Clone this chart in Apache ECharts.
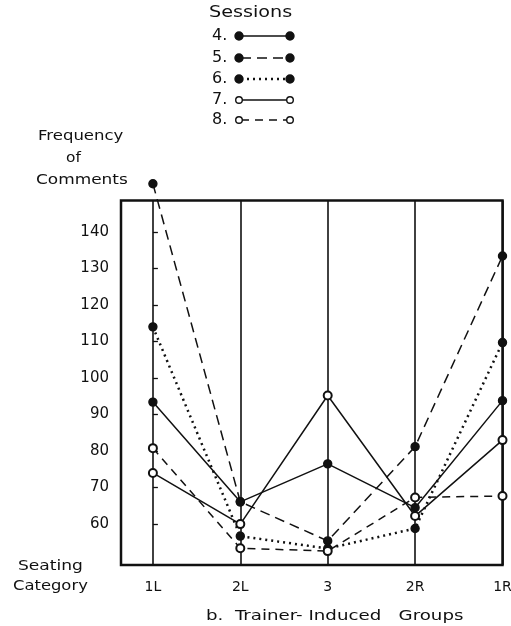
<!DOCTYPE html>
<html>
<head>
<meta charset="utf-8">
<script src="https://cdn.jsdelivr.net/npm/echarts@6/dist/echarts.min.js"></script>
<style>
html,body{margin:0;padding:0;background:#fff;}
#chart{width:511px;height:626px;}
</style>
</head>
<body>
<div id="chart"></div>
<script>
// ---- data ----
var categories = ['1L', '2L', '3', '2R', '1R'];
var yTicks = [60, 70, 80, 90, 100, 110, 120, 130, 140];
var sessionNames = ['4.', '5.', '6.', '7.', '8.'];
var session4 = [93.4, 66.1, 76.5, 64.5, 93.8];
var session5 = [153.2, 66.1, 55.4, 81.2, 133.4];
var session6 = [114.0, 56.7, 53.3, 58.8, 109.7];
var session7 = [74.0, 60.0, 95.2, 62.2, 83.0];
var session8 = [80.8, 53.4, 52.6, 67.3, 67.7];

// ---- styles ----
var INK = '#111';
var styles = [
  {type: 'solid', width: 1.5, filled: true},
  {type: [10, 6], width: 1.5, filled: true},
  {type: [2, 4], width: 2.5, filled: true},
  {type: 'solid', width: 1.5, filled: false},
  {type: [8, 6], width: 1.5, filled: false}
];
var allSessions = [session4, session5, session6, session7, session8];
var FONT = 'DejaVu Sans';

var series = allSessions.map(function (vals, s) {
  var st = styles[s];
  return {
    name: sessionNames[s],
    type: 'line',
    clip: false,
    data: vals.map(function (v, i) { return [i, v]; }),
    symbol: st.filled ? 'circle' : 'emptyCircle',
    symbolSize: 8,
    lineStyle: {color: INK, width: st.width, type: st.type},
    itemStyle: {color: INK, borderColor: INK, borderWidth: 1.4},
    z: 5,
    animation: false
  };
});

// vertical category lines
series.push({
  type: 'line',
  data: [],
  silent: true,
  markLine: {
    symbol: ['none', 'none'],
    silent: true,
    animation: false,
    label: {show: false},
    lineStyle: {color: INK, width: 1.6, type: 'solid'},
    data: categories.map(function (c, i) { return {xAxis: i}; })
  },
  z: 2
});

function label(text, x, y, size, sx) {
  return {
    type: 'text', x: x, y: y, scaleX: sx,
    style: {text: text, font: size + 'px ' + FONT, fill: INK, verticalAlign: 'top', align: 'left'}
  };
}

// legend drawn as graphics
var legendGraphics = [label('Sessions', 209, 6, 15, 1.28)];
var rowY = [36, 58, 79, 100, 120];
sessionNames.forEach(function (n, s) {
  var st = styles[s];
  var y = rowY[s];
  legendGraphics.push(label(n, 212, y - 8, 16, 1));
  legendGraphics.push({
    type: 'line',
    shape: {x1: 241, y1: y, x2: 288, y2: y},
    style: {stroke: INK, lineWidth: st.width, lineDash: st.type === 'solid' ? null : st.type}
  });
  [239, 290].forEach(function (cx) {
    legendGraphics.push({
      type: 'circle',
      shape: {cx: cx, cy: y, r: st.filled ? 4 : 3.3},
      style: {fill: st.filled ? INK : '#fff', stroke: INK, lineWidth: 1.4}
    });
  });
});

var textGraphics = [
  label('Frequency', 38, 129, 14, 1.18),
  label('of', 66, 151, 14, 1.1),
  label('Comments', 36, 173, 14, 1.21),
  label('Seating', 18, 559, 14, 1.22),
  label('Category', 13, 579, 14, 1.17),
  label('b.  Trainer- Induced   Groups', 206, 609, 14, 1.3)
];

var chart = echarts.init(document.getElementById('chart'), null, {renderer: 'canvas'});
chart.setOption({
  backgroundColor: '#fff',
  animation: false,
  grid: {
    left: 121, right: 8.5, top: 200.5, bottom: 61,
    containLabel: false, outerBoundsMode: 'none',
    show: true, borderColor: INK, borderWidth: 2.5, backgroundColor: 'transparent'
  },
  xAxis: {
    type: 'value', min: -0.365, max: 4,
    axisLine: {show: false},
    splitLine: {show: false},
    axisTick: {show: false},
    axisLabel: {
      customValues: categories.map(function (c, i) { return i; }),
      formatter: function (v) { return categories[Math.round(v)]; },
      color: INK, fontSize: 14, fontFamily: FONT, margin: 15,
      showMaxLabel: true, hideOverlap: false
    }
  },
  yAxis: {
    type: 'value', min: 48.8, max: 148.6,
    axisLine: {show: false},
    splitLine: {show: false},
    axisTick: {show: true, inside: true, length: 5, customValues: yTicks, lineStyle: {color: INK, width: 1.3}},
    axisLabel: {customValues: yTicks, color: INK, fontSize: 15, fontFamily: FONT, margin: 12}
  },
  graphic: legendGraphics.concat(textGraphics),
  series: series
});
</script>
</body>
</html>
